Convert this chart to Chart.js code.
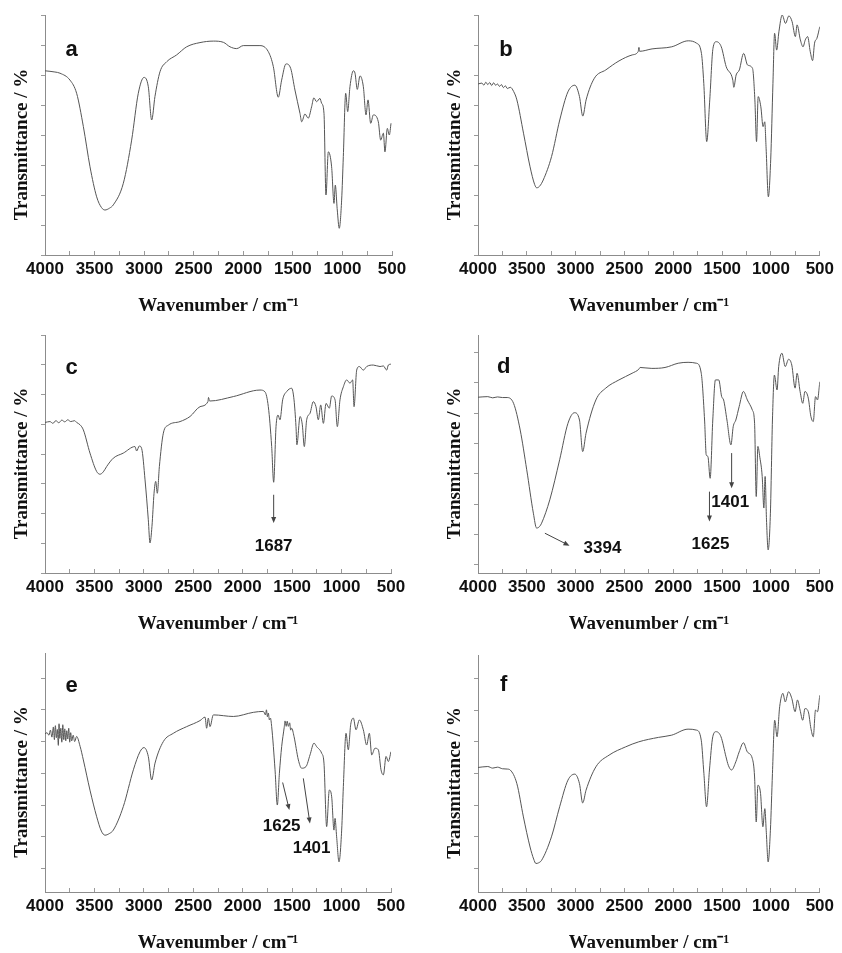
<!DOCTYPE html>
<html><head><meta charset="utf-8">
<script src="https://cdn.jsdelivr.net/npm/chart.js@4.4.0/dist/chart.umd.min.js"></script>
<style>
html,body{margin:0;padding:0;background:#fff;overflow:hidden;width:842px;height:953px;position:relative;}
canvas{position:absolute;}
</style></head><body>
<canvas id="ca"></canvas><canvas id="cb"></canvas>
<canvas id="cc"></canvas><canvas id="cd"></canvas>
<canvas id="ce"></canvas><canvas id="cf"></canvas>
<script>
// ---------- data ----------
const panelLetters = ['a','b','c','d','e','f'];
const xLabelValues = [4000,3500,3000,2500,2000,1500,1000,500];
const yTicks80 = [0,10,20,30,40,50,60,70,80];
const yTicks70 = [0,10,20,30,40,50,60,70];
const yTicks60 = [0,10,20,30,40,50,60];

const wnA = [4000,3900,3849,3748,3681,3613,3546,3479,3430,3395,3350,3311,3210,3126,3059,3001,2958,2924,2891,2840,2773,2672,2571,2437,2302,2201,2134,2067,2000,1832,1748,1697,1647,1613,1569,1522,1479,1428,1411,1378,1345,1311,1288,1261,1227,1210,1186,1166,1142,1109,1085,1072,1052,1032,1008,991,967,947,924,890,873,850,823,789,762,742,715,688,638,614,587,571,547,527,510];
const tA  = [61.4,61,60.6,58.3,53.9,42.8,29.4,19.4,15.8,15,15.6,16.7,23.9,38.3,53.9,59.2,56.1,45,52.8,61.1,64.4,66.7,69.4,70.8,71.3,70.9,69.4,68.8,69.8,69.8,67.8,62.8,52.6,58.3,63.7,62.2,55,47.2,44.4,47,45.6,49.4,52.4,51.1,52.2,50.6,47.2,20,34.4,29.4,17.2,23.3,15,8.9,18.3,32.8,53.9,47.8,56.1,61.4,60.6,55.2,59.7,56.1,46.7,51.7,43.9,46.7,44.4,38.3,40.6,34.4,42.2,40,43.9];

const wnB = [4000,3960,3940,3920,3900,3880,3860,3840,3820,3800,3780,3760,3740,3720,3700,3669,3635,3602,3534,3467,3420,3399,3370,3332,3247,3163,3079,3008,2961,2927,2893,2809,2691,2556,2420,2360,2352,2345,2218,2016,1847,1762,1712,1688,1658,1627,1594,1560,1509,1459,1391,1381,1357,1324,1280,1239,1189,1165,1148,1131,1104,1081,1064,1050,1027,1003,980,963,942,919,885,851,817,784,750,733,699,672,649,625,598,574,554,530,500];
const tB  = [57,57.3,56.6,57.6,56.8,57.5,56.5,57.4,56.6,57,56.2,56.8,55.8,56.4,55.5,55.9,54.5,51.7,40.6,29.4,23.5,22.4,22.9,25,32.8,45,54.4,56.6,52.8,46.3,51.7,58.9,61.7,64.7,66.7,67.8,69.2,67.9,68.7,69.4,71.4,70.6,67.2,57.2,37.8,51.7,68.9,71.1,69.4,62.8,58.3,55.9,60,61.7,67.2,63.3,62.2,51.7,37.8,52.8,49.4,42.8,44.4,35.6,19.4,31.7,57.2,73.9,68.3,74.4,80,77.2,79.7,77.8,72.8,76.7,71.7,69.4,71.7,72.8,67.8,64.8,70.6,72.2,76.1];

const wnC = [4000,3950,3920,3890,3860,3830,3800,3770,3740,3700,3680,3645,3612,3545,3477,3444,3410,3376,3309,3208,3090,3073,3046,3022,2988,2955,2938,2918,2897,2880,2864,2843,2803,2752,2634,2533,2432,2352,2346,2335,2095,1825,1775,1741,1707,1687,1663,1643,1623,1596,1555,1505,1481,1461,1452,1420,1397,1377,1353,1319,1286,1259,1235,1211,1184,1157,1124,1100,1066,1043,1016,982,948,915,888,874,847,820,780,746,679,611,577,544,527,500];
const tC  = [50.6,50.9,50.3,51.2,50.5,51.4,50.8,51.5,50.9,51.2,50.6,49.8,48.1,40.3,34.1,33.2,34,35.8,38.6,40.3,42.5,41,42.7,41.8,31.3,17.9,10.1,15.7,26.8,30.8,26.8,35.8,47,49.7,50.9,52.6,55.9,57.6,59,57.8,59.3,61.5,60.9,55.9,42.5,30.5,49.2,53.1,51.5,58.2,61,62.1,58.2,49.2,43.1,52.6,49.8,42.5,51.5,53.7,57.6,55.9,51.5,56.5,50.3,57,55.4,59.5,58.2,49.2,58.2,62.6,64.9,63.8,64.9,55.9,68.2,69.4,68.2,69.4,69.9,69.4,69.6,68.2,69.9,70.2];

const wnD = [4000,3900,3850,3800,3750,3703,3636,3568,3501,3433,3400,3370,3349,3265,3164,3079,3012,2961,2928,2894,2793,2692,2557,2422,2354,2340,2220,2085,1950,1849,1764,1714,1680,1663,1646,1623,1596,1569,1535,1505,1485,1451,1410,1387,1360,1326,1282,1242,1191,1168,1151,1134,1114,1090,1073,1060,1046,1029,1006,985,965,938,921,888,854,820,787,753,733,702,675,652,618,591,567,544,524,500];
const tD  = [55.2,55.4,55,55.3,55.1,55.1,53.2,44.4,31.3,17,12.1,12.6,13.7,21.4,34.6,46.6,50.1,47.7,37.3,43.3,54.3,58.2,60.9,63.1,64.4,65,64.7,65,66.4,66.7,66.4,63.1,47.7,36.2,35.7,28.5,47.7,60.9,60.9,55.4,54.3,47.7,39.5,45.5,47.7,52.1,57.1,54.3,51,46.6,22.5,39,35.4,29.1,18.7,29.1,14.8,4.9,17,47.7,62.5,57.6,65.3,69.7,65.3,67.7,65.8,58.2,63.1,57.1,53.2,57.1,54.9,48.8,47.2,55.4,54.3,60.3];

const wnE = [4000,3980,3960,3945,3930,3915,3905,3895,3885,3875,3865,3858,3850,3840,3830,3820,3810,3800,3790,3780,3770,3760,3750,3740,3730,3715,3700,3680,3645,3612,3545,3477,3430,3393,3350,3309,3208,3106,3039,2999,2955,2921,2887,2803,2702,2567,2432,2381,2365,2348,2331,2297,2095,1893,1791,1770,1760,1750,1741,1730,1720,1707,1673,1650,1629,1606,1580,1572,1560,1550,1538,1525,1515,1505,1481,1437,1404,1360,1319,1279,1252,1201,1178,1151,1124,1100,1077,1066,1050,1026,999,982,955,932,908,881,854,820,780,746,719,695,662,628,601,577,550,527,500];
const tE  = [42.4,42.8,42,43.6,41.4,44.6,40.6,45,41.2,43.8,38.8,45.6,41,44.2,39.8,45.3,40.6,44,40.2,43.4,40.8,44.2,39.8,42.8,40.2,42,40,41.6,38.5,34.2,24.7,16.3,11.8,10.5,11,12.1,19.5,31.1,36.8,38.1,35.3,27.9,33.2,40,42.6,44.7,46.6,47.7,44.2,47.4,44.7,48.4,47.9,49.2,49.5,48.4,50,47.8,49,46.8,47.4,44.7,31.1,20,30,38.4,44.5,46.5,44.8,46.4,44.8,45.9,43.6,44.2,41.6,34.2,31.6,32.1,35.8,39.5,38.4,36.3,33.2,13.2,24.7,22.6,12.1,15.8,10,2.1,12.1,25.8,42.6,37.4,45.3,47.4,43.7,46.8,43.7,38.9,42.6,35.8,37.9,37.4,31.1,29.5,35.3,33.7,36.8];

const wnF = [4000,3900,3850,3800,3750,3700,3670,3602,3535,3467,3430,3407,3380,3349,3248,3164,3079,3009,2961,2928,2894,2793,2658,2489,2354,2152,2017,1849,1764,1714,1687,1660,1630,1596,1562,1512,1461,1437,1404,1360,1326,1282,1242,1191,1168,1151,1134,1107,1083,1063,1049,1029,1006,985,962,938,911,878,854,820,787,753,729,702,675,652,618,591,567,544,524,500];
const tF  = [31.9,32.2,31.7,32,31.5,31.4,31.1,26.8,16.3,6.8,3,1.6,1.8,2.6,10,19.5,27.9,29.8,26.8,20.7,24.7,32.1,35.8,38.4,40,41.4,42.1,44,43.7,40.5,30,19.5,31.1,41.6,43.2,41.6,35.3,32.6,31.1,33.7,36.8,39.7,36.8,34.7,28.9,14.7,26.3,23.7,13.2,18.9,12.1,2.1,12.1,30,46.8,41.6,51.1,55.3,52.6,55.8,53.7,49.5,53.2,50,46.8,50.5,49.5,44.2,41.6,50,49.5,54.7];

// peak annotations (text, wavenumber, value)
const labelsC = [{text:'1687', x:1687, y:8.9}];
const arrowsC = [{x1:1687, y1:26.3, x2:1687, y2:16.8}];
const labelsD = [{text:'3394', x:2725, y:5.5},{text:'1625', x:1619, y:6.9},{text:'1401', x:1417, y:20.5}];
const arrowsD = [{x1:3315, y1:10.4, x2:3063, y2:6.3},{x1:1630, y1:24.1, x2:1630, y2:14.3},{x1:1403, y1:36.8, x2:1403, y2:25.2}];
const labelsE = [{text:'1625', x:1606, y:13.4},{text:'1401', x:1303, y:6.3}];
const arrowsE = [{x1:1596, y1:27.1, x2:1528, y2:18.4},{x1:1387, y1:28.4, x2:1320, y2:14.2}];

// ---------- layout ----------
const panels = [
  {key:'a', wn:wnA, t:tA, yMin:0,    yMax:80,   yTicks:yTicks80, letterAt:[3731,68.3], labels:[], arrows:[], origin:[0,0],     area:{left:45, right:392, top:15,  bottom:255}},
  {key:'b', wn:wnB, t:tB, yMin:0,    yMax:80,   yTicks:yTicks80, letterAt:[3713,68.3], labels:[], arrows:[], origin:[421,0],   area:{left:478,right:824, top:15,  bottom:255}},
  {key:'c', wn:wnC, t:tC, yMin:0,    yMax:80,   yTicks:yTicks80, letterAt:[3730,68.8], labels:labelsC, arrows:arrowsC, origin:[0,318],   area:{left:45, right:391, top:335, bottom:573}},
  {key:'d', wn:wnD, t:tD, yMin:-2.7, yMax:75.7, yTicks:yTicks70, letterAt:[3737,65.3], labels:labelsD, arrows:arrowsD, origin:[421,318], area:{left:478,right:824, top:335, bottom:573}},
  {key:'e', wn:wnE, t:tE, yMin:-7.4, yMax:67.9, yTicks:yTicks60, letterAt:[3730,57.4], labels:labelsE, arrows:arrowsE, origin:[0,636],   area:{left:45, right:391, top:653, bottom:892}},
  {key:'f', wn:wnF, t:tF, yMin:-7.4, yMax:67.4, yTicks:yTicks60, letterAt:[3737,57.9], labels:[], arrows:[], origin:[421,636], area:{left:478,right:824, top:655, bottom:892}}
];

const SANS = '"Liberation Sans", Arial, sans-serif';
const SERIF = '"Liberation Serif", "Times New Roman", serif';

const annoPlugin = {
  id: 'panelAnno',
  afterDatasetsDraw(chart, args, opts) {
    const {ctx} = chart; const x = chart.scales.x, y = chart.scales.y;
    ctx.save();
    ctx.fillStyle = '#111'; ctx.textAlign = 'center'; ctx.textBaseline = 'middle';
    ctx.font = 'bold 22px ' + SANS;
    ctx.fillText(opts.letter, x.getPixelForValue(opts.letterAt[0]), y.getPixelForValue(opts.letterAt[1]));
    ctx.font = 'bold 17px ' + SANS;
    (opts.labels || []).forEach(l => ctx.fillText(l.text, x.getPixelForValue(l.x), y.getPixelForValue(l.y)));
    ctx.strokeStyle = '#444'; ctx.lineWidth = 1; ctx.fillStyle = '#444';
    (opts.arrows || []).forEach(a => {
      const px1 = x.getPixelForValue(a.x1), py1 = y.getPixelForValue(a.y1);
      const px2 = x.getPixelForValue(a.x2), py2 = y.getPixelForValue(a.y2);
      const ang = Math.atan2(py2 - py1, px2 - px1);
      ctx.beginPath(); ctx.moveTo(px1, py1); ctx.lineTo(px2 - 4*Math.cos(ang), py2 - 4*Math.sin(ang)); ctx.stroke();
      ctx.beginPath();
      ctx.moveTo(px2, py2);
      ctx.lineTo(px2 - 6*Math.cos(ang) + 2.5*Math.sin(ang), py2 - 6*Math.sin(ang) - 2.5*Math.cos(ang));
      ctx.lineTo(px2 - 6*Math.cos(ang) - 2.5*Math.sin(ang), py2 - 6*Math.sin(ang) + 2.5*Math.cos(ang));
      ctx.closePath(); ctx.fill();
    });
    ctx.restore();
  }
};

function makeChart(p, i) {
  const cv = document.getElementById('c' + p.key);
  cv.width = 421; cv.height = 318;
  cv.style.left = p.origin[0] + 'px'; cv.style.top = p.origin[1] + 'px';
  const tgt = {left: p.area.left - p.origin[0], right: p.area.right - p.origin[0],
               top: p.area.top - p.origin[1], bottom: p.area.bottom - p.origin[1]};
  const pad = {left: 10, right: 15, top: tgt.top, bottom: 0};
  const chart = new Chart(cv, {
    type: 'line',
    data: {datasets: [{
      data: p.wn.map((w, k) => ({x: w, y: p.t[k]})),
      borderColor: '#555', borderWidth: 1, pointRadius: 0,
      cubicInterpolationMode: 'monotone', fill: false
    }]},
    options: {
      responsive: false, animation: false, devicePixelRatio: 1,
      layout: {padding: pad},
      plugins: {
        legend: {display: false}, tooltip: {enabled: false},
        panelAnno: {letter: panelLetters[i], letterAt: p.letterAt, labels: p.labels, arrows: p.arrows}
      },
      scales: {
        x: {
          type: 'linear', reverse: true, min: 500, max: 4000,
          border: {display: true, color: '#8c8c8c', width: 1},
          grid: {drawOnChartArea: false, drawTicks: true, tickLength: -4, color: '#9a9a9a'},
          ticks: {stepSize: 250, autoSkip: false, maxRotation: 0, minRotation: 0, padding: 8,
                  color: '#111', font: {family: SANS, weight: 'bold', size: 17},
                  callback: v => xLabelValues.includes(v) ? String(v) : ''},
          title: {display: true, text: 'Wavenumber / cm⁻¹', color: '#111',
                  font: {family: SERIF, weight: 'bold', size: 19, lineHeight: 1},
                  padding: {top: 9, bottom: 0}}
        },
        y: {
          type: 'linear', min: p.yMin, max: p.yMax,
          afterBuildTicks: s => { s.ticks = p.yTicks.map(v => ({value: v})); },
          border: {display: true, color: '#8c8c8c', width: 1},
          grid: {drawOnChartArea: false, drawTicks: true, tickLength: 4, color: '#9a9a9a'},
          ticks: {display: false},
          title: {display: true, text: 'Transmittance / %    ', color: '#111',
                  font: {family: SERIF, weight: 'bold', size: 19, lineHeight: 1.2},
                  padding: {top: 0, bottom: 8}}
        }
      }
    },
    plugins: [annoPlugin]
  });
  for (let k = 0; k < 4; k++) {
    const ca = chart.chartArea;
    pad.left += tgt.left - ca.left;
    pad.right += ca.right - tgt.right;
    pad.top += tgt.top - ca.top;
    pad.bottom += ca.bottom - tgt.bottom;
    chart.options.layout.padding = {left: pad.left, right: pad.right, top: pad.top, bottom: pad.bottom};
    chart.update('none');
  }
  return chart;
}
panels.forEach(makeChart);
</script>
</body></html>
